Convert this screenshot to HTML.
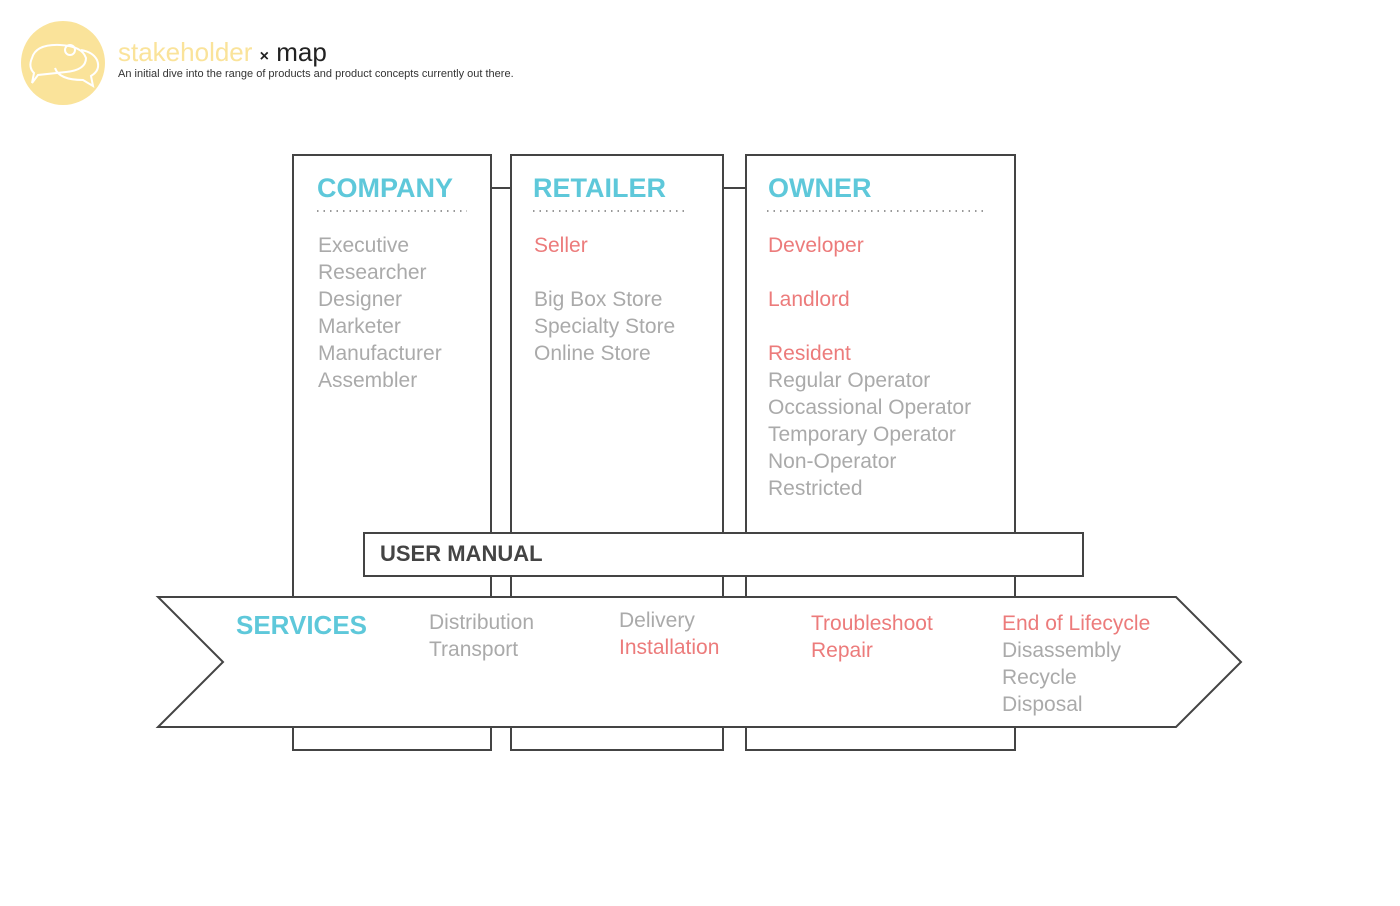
<!DOCTYPE html>
<html><head><style>
body{margin:0;width:1400px;height:906px;background:#fff;overflow:hidden;font-family:"Liberation Sans",sans-serif}
svg{position:absolute;left:0;top:0}
.t{position:absolute;font-size:21px;line-height:27px;color:#aaa;white-space:nowrap}
.h{position:absolute;font-size:27px;font-weight:bold;color:#5ec8da;white-space:nowrap}
.p{color:#ec7b7b}
</style></head><body>
<svg width="1400" height="906">
<circle cx="63" cy="63" r="42" fill="#fae39a"/>
<path d="M32 58 q4-14 28-13 q22 1 26 13 q0 12-20 14 l-28 3 l-6 8 l2-10 q-6-6-2-15z" fill="none" stroke="#fff" stroke-width="2"/>
<path d="M55 68 q4 12 28 12 l10 6 l-2-10 q10-6 6-16 q-4-8-16-10" fill="none" stroke="#fff" stroke-width="2"/>
<circle cx="70" cy="50" r="5" fill="none" stroke="#fff" stroke-width="2"/>
<g fill="#fff" stroke="#444" stroke-width="2">
<rect x="293" y="155" width="198" height="595"/>
<rect x="511" y="155" width="212" height="595"/>
<rect x="746" y="155" width="269" height="595"/>
<line x1="491" y1="188" x2="511" y2="188"/>
<line x1="723" y1="188" x2="746" y2="188"/>
<rect x="364" y="533" width="719" height="43"/>
<polygon points="158,597 1176,597 1241,662 1176,727 158,727 223,662"/>
</g>
<g stroke="#999" stroke-width="2" stroke-dasharray="1.5 5">
<line x1="317" y1="211" x2="467" y2="211"/>
<line x1="533" y1="211" x2="686" y2="211"/>
<line x1="767" y1="211" x2="987" y2="211"/>
</g>
</svg>
<div style="position:absolute;left:118px;top:37px;font-size:26px;color:#fae39a;white-space:nowrap">stakeholder <span style="color:#222;font-size:16px;font-weight:bold">×</span> <span style="color:#222">map</span></div>
<div style="position:absolute;left:118px;top:68px;font-size:11px;color:#333;white-space:nowrap">An initial dive into the range of products and product concepts currently out there.</div>
<div class="h" style="left:317px;top:173px">COMPANY</div>
<div class="h" style="left:533px;top:173px">RETAILER</div>
<div class="h" style="left:768px;top:173px">OWNER</div>
<div class="t" style="left:318px;top:232px">Executive<br>Researcher<br>Designer<br>Marketer<br>Manufacturer<br>Assembler</div>
<div class="t" style="left:534px;top:232px"><span class="p">Seller</span><br><br>Big Box Store<br>Specialty Store<br>Online Store</div>
<div class="t" style="left:768px;top:232px"><span class="p">Developer</span><br><br><span class="p">Landlord</span><br><br><span class="p">Resident</span><br>Regular Operator<br>Occassional Operator<br>Temporary Operator<br>Non-Operator<br>Restricted</div>
<div style="position:absolute;left:380px;top:541px;font-size:22px;font-weight:bold;color:#444">USER MANUAL</div>
<div class="h" style="left:236px;top:610px;font-size:26px">SERVICES</div>
<div class="t" style="left:429px;top:609px">Distribution<br>Transport</div>
<div class="t" style="left:619px;top:607px">Delivery<br><span class="p">Installation</span></div>
<div class="t p" style="left:811px;top:610px">Troubleshoot<br>Repair</div>
<div class="t" style="left:1002px;top:610px"><span class="p">End of Lifecycle</span><br>Disassembly<br>Recycle<br>Disposal</div>
</body></html>
